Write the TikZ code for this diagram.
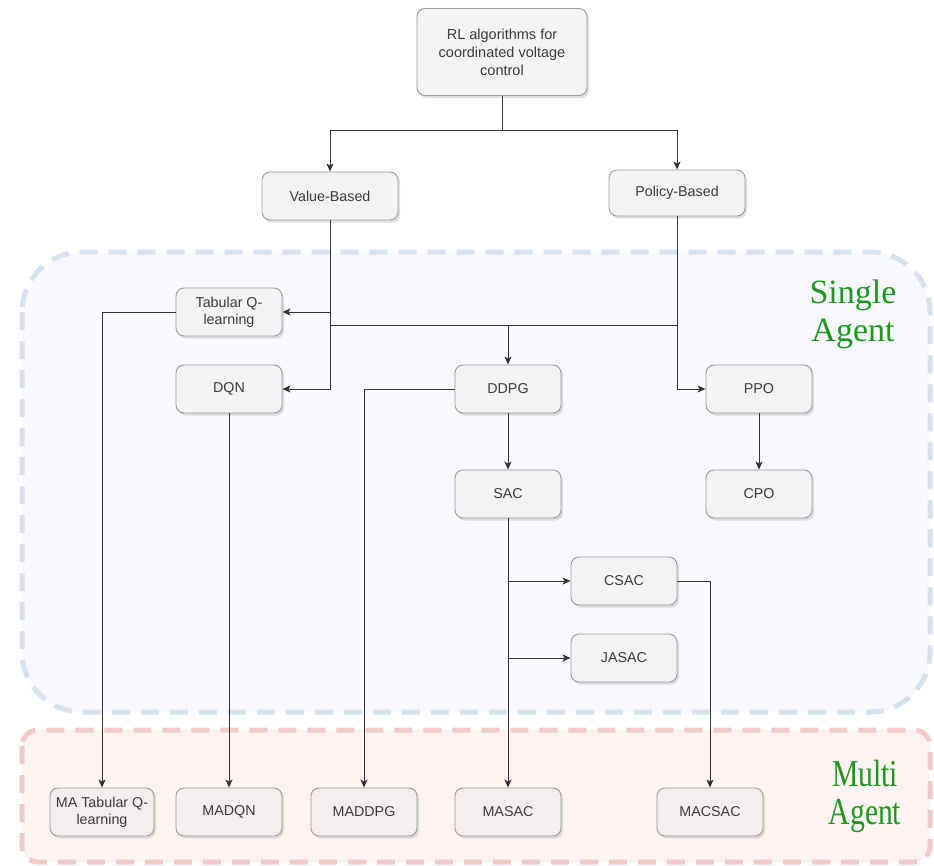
\documentclass[tikz,border=0pt]{standalone}
\usepackage{fontspec}
\setmainfont{Liberation Sans}
\newfontfamily\rotulofont{Liberation Serif}
\usetikzlibrary{positioning,arrows.meta,shadows,backgrounds}
\definecolor{cajafondo}{HTML}{F2F3F5}
\definecolor{cajama}{HTML}{F4EDED}
\definecolor{cajaborde}{HTML}{9A9A9A}
\definecolor{texto}{HTML}{3A3A3A}
\definecolor{linea}{HTML}{333333}
\definecolor{unobordo}{HTML}{D8E1EE}
\definecolor{unofondo}{HTML}{F8F8FD}
\definecolor{multibordo}{HTML}{F1CACA}
\definecolor{multifondo}{HTML}{FDF3F3}
\definecolor{verde}{HTML}{1A991A}
\tikzset{
  bloque/.style   = {draw=cajaborde, fill=cajafondo, rounded corners=8pt, align=center,
                     text=texto, font=\fontsize{14.3}{17}\selectfont, line width=0.9pt,
                     minimum width=106pt, minimum height=48pt, inner sep=2pt,
                     drop shadow={shadow xshift=2pt, shadow yshift=-2.5pt, fill=black!25}},
  bloquema/.style = {bloque, fill=cajama},
  zona/.style     = {line width=5pt, dash pattern=on 18pt off 11pt},
  rotulo/.style   = {text=verde, align=center, font=\rotulofont\fontsize{34}{38}\selectfont},
  flecha/.style   = {draw=linea, line width=1pt, -{Stealth[length=8pt, width=7pt, inset=2pt]}},
  tramo/.style    = {draw=linea, line width=1pt}
}
\newcommand{\estrecho}[1]{\scalebox{0.78}[1]{#1}}
\begin{document}
\begin{tikzpicture}[x=1pt, y=-1pt]
    \useasboundingbox (0,0) rectangle (934,865);
    % regiones
    \draw[zona, draw=unobordo, fill=unofondo, rounded corners=60pt] (22,252) rectangle (930,712);
    \draw[zona, draw=multibordo, fill=multifondo, rounded corners=16pt] (22,730) rectangle (930,862);
    \node[rotulo] (single) at (853,314) {Single\\Agent};
    \node[rotulo, font=\rotulofont\fontsize{38}{38}\selectfont] (multi) at (865,796) {\estrecho{Multi}\\\estrecho{Agent}};

    % algoritmos
    \node[bloque, minimum width=170pt, minimum height=87pt, font=\fontsize{14.5}{18}\selectfont] (raiz) at (502,52) {RL algorithms for\\coordinated voltage\\control};
    \node[bloque, minimum width=136pt] (valor) at (330,196) {Value-Based};
    \node[bloque, minimum width=136pt, minimum height=46pt] (politica) at (677,193) {Policy-Based};
    \node[bloque] (tabular) at (229,312) {Tabular Q-\\learning};
    \node[bloque] (dqn) at (229,389) {DQN};
    \node[bloque] (ddpg) at (508,389) {DDPG};
    \node[bloque] (ppo) at (759,389) {PPO};
    \node[bloque] (sac) at (508,494) {SAC};
    \node[bloque] (cpo) at (759,494) {CPO};
    \node[bloque] (csac) at (624,581) {CSAC};
    \node[bloque] (jasac) at (624,658) {JASAC};

    \node[bloquema, minimum width=104pt] (matab) at (102,812) {MA Tabular Q-\\learning};
    \node[bloquema] (madqn) at (229,812) {MADQN};
    \node[bloquema] (maddpg) at (364,812) {MADDPG};
    \node[bloquema] (masac) at (508,812) {MASAC};
    \node[bloquema] (macsac) at (710,812) {MACSAC};

    % conexiones
    \coordinate (bajo) at (502,130);
    \draw[tramo] (raiz.south) -- (bajo);
    \draw[flecha] (bajo) -| (valor.north);
    \draw[flecha] (bajo) -| (politica.north);

    \draw[flecha] (valor.south) |- (tabular.east);
    \draw[flecha] (valor.south) |- (dqn.east);
    \coordinate (ci) at (330,325);
    \coordinate (cd) at (677,325);
    \draw[tramo] (ci) -- (cd);
    \draw[flecha] (ci -| ddpg.north) -- (ddpg.north);
    \draw[flecha] (politica.south) |- (ppo.west);

    \draw[flecha] (ddpg.south) -- (sac.north);
    \draw[flecha] (ppo.south) -- (cpo.north);
    \draw[flecha] (sac.south |- csac.west) -- (csac.west);
    \draw[flecha] (sac.south |- jasac.west) -- (jasac.west);

    \draw[flecha] (tabular.west) -| (matab.north);
    \draw[flecha] (dqn.south) -- (madqn.north);
    \draw[flecha] (ddpg.west) -| (maddpg.north);
    \draw[flecha] (sac.south) -- (masac.north);
    \draw[flecha] (csac.east) -| (macsac.north);
  \end{tikzpicture}
\end{document}
